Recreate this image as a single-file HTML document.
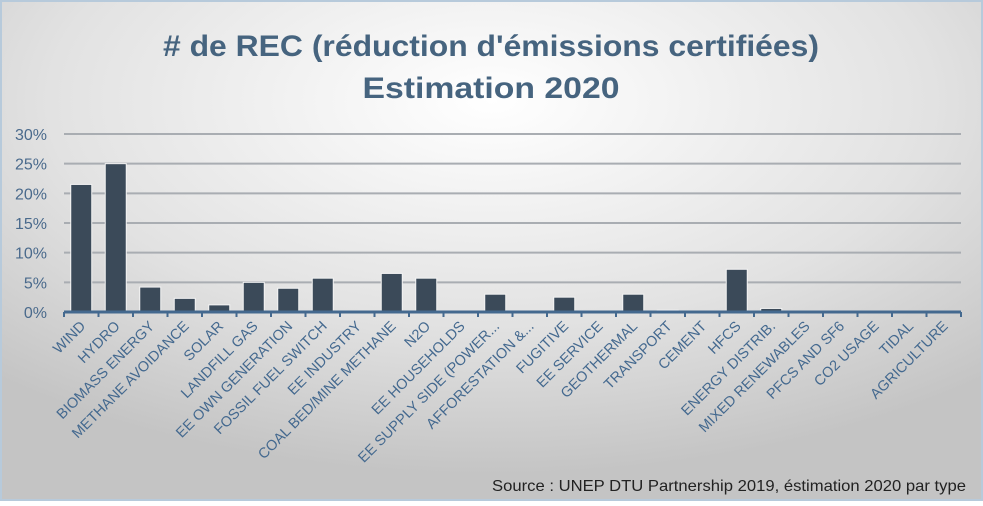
<!DOCTYPE html>
<html><head><meta charset="utf-8"><style>
body{margin:0;width:983px;height:501px;overflow:hidden;font-family:"Liberation Sans",sans-serif}
</style></head><body>
<svg id="chart" width="983" height="501" xmlns="http://www.w3.org/2000/svg">
<defs>
<radialGradient id="bg" cx="0.5" cy="0.2" r="0.75">
<stop offset="0" stop-color="#ffffff"/><stop offset="0.6" stop-color="#e2e2e2"/><stop offset="1" stop-color="#c4c4c4"/>
</radialGradient>
</defs>
<rect x="1" y="1" width="981" height="499" fill="url(#bg)" stroke="#b7cadb" stroke-width="2"/>
<text x="491" y="56" text-anchor="middle" font-size="30" font-weight="bold" fill="#46647f" textLength="656" lengthAdjust="spacingAndGlyphs"># de REC (réduction d'émissions certifiées)</text>
<text x="491" y="98" text-anchor="middle" font-size="30" font-weight="bold" fill="#46647f" textLength="257" lengthAdjust="spacingAndGlyphs">Estimation 2020</text>
<g id="grid"></g><g id="bars"></g><g id="axis"></g>
<text x="966" y="491" text-anchor="end" font-size="16" fill="#222" textLength="474" lengthAdjust="spacingAndGlyphs">Source : UNEP DTU Partnership 2019, éstimation 2020 par type</text>
</svg>
<script>
const categories=["WIND","HYDRO","BIOMASS ENERGY","METHANE AVOIDANCE","SOLAR","LANDFILL GAS","EE OWN GENERATION","FOSSIL FUEL SWITCH","EE INDUSTRY","COAL BED/MINE METHANE","N2O","EE HOUSEHOLDS","EE SUPPLY SIDE (POWER...","AFFORESTATION &...","FUGITIVE","EE SERVICE","GEOTHERMAL","TRANSPORT","CEMENT","HFCS","ENERGY DISTRIB.","MIXED RENEWABLES","PFCS AND SF6","CO2 USAGE","TIDAL","AGRICULTURE"];
const values=[21.5,25,4.2,2.3,1.2,5,4,5.7,0.05,6.5,5.7,0.05,3,0.05,2.5,0.05,3,0.3,0.1,7.2,0.6,0.1,0.1,0.05,0.05,0.05];
const ticks=[0,5,10,15,20,25,30];
const NS="http://www.w3.org/2000/svg";
const x0=64,x1=961,y0=312,y30=134;
const bw=(x1-x0)/categories.length;
const y=v=>y0-(v/30)*(y0-y30);
const xc=i=>x0+bw*(i+0.5);
function mk(t,a,p){const e=document.createElementNS(NS,t);for(const k in a)e.setAttribute(k,a[k]);p.appendChild(e);return e;}
const G=document.getElementById('grid'),B=document.getElementById('bars'),A=document.getElementById('axis');
ticks.forEach(t=>{
  if(t>0){const l=mk('line',{x1:x0,x2:x1,y1:y(t),y2:y(t),stroke:'#a9adb2','stroke-width':2},G);
  
  }
  const tx=mk('text',{x:47,y:y(t)+6,'text-anchor':'end','font-size':16,fill:'#4a6a8c'},G);
  tx.textContent=t+'%';
  
  
});
values.forEach((v,i)=>{
  const r=mk('rect',{x:xc(i)-10.5,y:y(v),width:21,height:y0-y(v),fill:'#3b4a59',stroke:'#f4f4f4','stroke-width':1},B);
  
  
});
const ax=mk('line',{x1:x0,x2:x1,y1:y0,y2:y0,stroke:'#44698f','stroke-width':3},A);


for(let i=0;i<=categories.length;i++){
  const tk=mk('line',{x1:x0+bw*i,x2:x0+bw*i,y1:y0,y2:y0+5,stroke:'#44698f','stroke-width':2},A);
  
  
}
categories.forEach((c,i)=>{
  const tx=mk('text',{x:xc(i)+5,y:y0+15,'text-anchor':'end','font-size':14.5,fill:'#44698f',transform:`rotate(-45 ${xc(i)+5} ${y0+15})`},A);
  tx.textContent=c;
  
  
});
</script>
</body></html>
